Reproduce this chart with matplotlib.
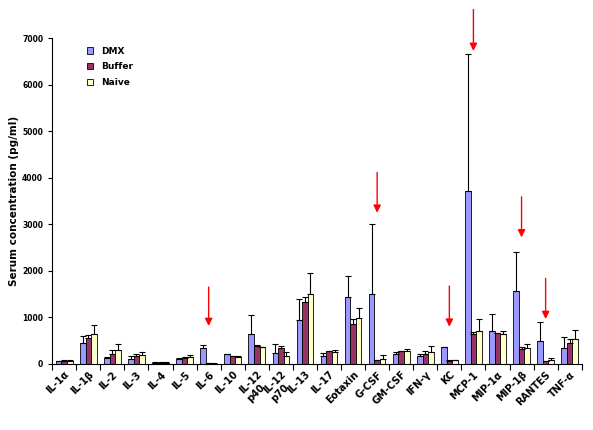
import numpy as np
import matplotlib.pyplot as plt

# cytokines measured
cytokines = ["IL-1α", "IL-1β", "IL-2", "IL-3", "IL-4", "IL-5", "IL-6", "IL-10",
             "IL-12\np40", "IL-12\np70", "IL-13", "IL-17", "Eotaxin", "G-CSF",
             "GM-CSF", "IFN-γ", "KC", "MCP-1", "MIP-1α", "MIP-1β", "RANTES", "TNF-α"]

# mean values (pg/ml)
dmx = [60, 445, 136, 100, 30, 115, 345, 208, 646, 237, 948, 172, 1433, 1497,
       215, 172, 358, 3711, 703, 1562, 487, 337]
buffer = [70, 553, 208, 172, 30, 136, 15, 165, 395, 345, 1335, 272, 860, 86,
          272, 208, 72, 638, 666, 329, 64, 458]
naive = [70, 640, 294, 194, 30, 151, 10, 151, 359, 179, 1508, 258, 982, 107,
         279, 258, 79, 703, 645, 337, 86, 537]

# upper error (SD)
dmx_err = [15, 150, 20, 65, 5, 20, 57, 15, 402, 193, 452, 57, 452, 1505,
           50, 43, 12, 2951, 365, 838, 409, 243]
buffer_err = [10, 64, 86, 36, 5, 15, 5, 10, 15, 42, 101, 10, 100, 10,
              10, 64, 5, 57, 10, 30, 5, 73]
naive_err = [10, 193, 130, 57, 5, 43, 5, 30, 10, 79, 452, 43, 215, 79,
             37, 122, 5, 257, 58, 93, 43, 187]

# arrows pointing at the interesting groups (index, arrow top, arrow tip)
arrow_idx = [6, 13, 16, 17, 19, 20]
arrow_top = [1655, 4120, 1676, 7622, 3595, 1842]
arrow_tip = [817, 3252, 802, 6733, 2723, 967]

fig = plt.figure(figsize=(5.93, 4.30), dpi=100)
ax = fig.add_axes([0.088, 0.1535, 0.893, 0.757])

x = np.arange(len(cytokines))
w = 0.23
err_kw = dict(ecolor="black", elinewidth=0.8, capsize=2.2, capthick=0.8)
ax.bar(x - w, dmx, w, color="#9999FF", edgecolor="black", linewidth=0.6,
       yerr=[np.zeros(len(dmx)), dmx_err], error_kw=err_kw, label="DMX")
ax.bar(x, buffer, w, color="#993366", edgecolor="black", linewidth=0.6,
       yerr=[np.zeros(len(buffer)), buffer_err], error_kw=err_kw, label="Buffer")
ax.bar(x + w, naive, w, color="#FFFFCC", edgecolor="black", linewidth=0.6,
       yerr=[np.zeros(len(naive)), naive_err], error_kw=err_kw, label="Naive")

for i, top, tip in zip(arrow_idx, arrow_top, arrow_tip):
    ax.annotate("", xy=(i, tip), xytext=(i, top), annotation_clip=False,
                arrowprops=dict(arrowstyle="-|>", color="red", lw=1.0,
                                mutation_scale=11, shrinkA=0, shrinkB=0))

ax.set_xlim(-0.5, len(cytokines) - 0.5)
ax.set_ylim(0, 7000)
ax.set_yticks(np.arange(0, 7001, 1000))
ax.tick_params(axis="y", labelsize=5.5, length=3, width=0.8)
for t in ax.get_yticklabels():
    t.set_fontweight("bold")

# ticks between groups, labels at group centers
ax.set_xticks(np.arange(-0.5, len(cytokines), 1.0))
ax.set_xticklabels([])
ax.tick_params(axis="x", length=4, width=0.8)
ax.set_xticks(x, minor=True)
ax.set_xticklabels(cytokines, minor=True, rotation=45, ha="right",
                   rotation_mode="anchor", fontsize=7, fontweight="bold",
                   multialignment="left", linespacing=1.1)
ax.tick_params(axis="x", which="minor", length=0, pad=4)

ax.spines["top"].set_visible(False)
ax.spines["right"].set_visible(False)
ax.set_ylabel("Serum concentration (pg/ml)", fontsize=7.5, fontweight="bold",
              labelpad=2)

ax.legend(loc="upper left", bbox_to_anchor=(0.05, 1.0), frameon=False,
          prop={"size": 6.5, "weight": "bold"}, handlelength=0.7,
          handleheight=0.7, labelspacing=0.75, handletextpad=0.9)

plt.savefig("out.png", dpi=100)
